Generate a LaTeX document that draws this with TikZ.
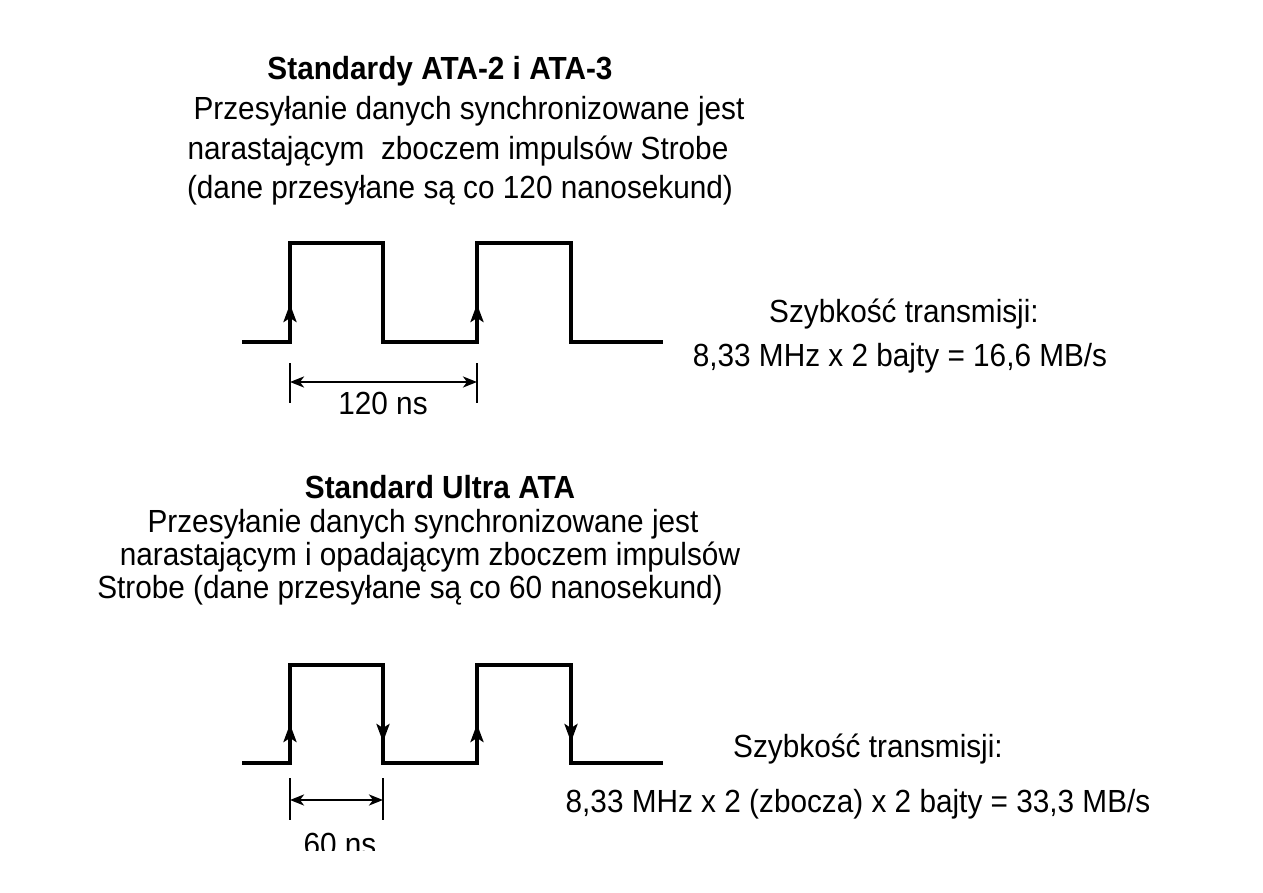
\documentclass[tikz,border=0pt]{standalone}
\usepackage{fontspec}
\setmainfont{Liberation Sans}[FakeStretch=0.93]
\usetikzlibrary{arrows.meta}
\begin{document}
\begin{tikzpicture}[x=0.5pt,y=-0.5pt,>=Stealth,font=\fontsize{16}{20}\selectfont]
	
	% 1. Style
	\tikzset{
		txt/.style={anchor=base,inner sep=0pt},
		tytul/.style={txt,font=\bfseries\fontsize{16}{20}\selectfont},
		sig/.style={line width=1.7pt,line join=miter},
		zbocze/.style={line width=1.7pt,-{Stealth[length=9pt,width=6.5pt,inset=2pt]}},
		wymiar/.style={line width=1.2pt},
		wymiarstrz/.style={wymiar,{Stealth[length=7pt,width=5.5pt,inset=2pt]}-{Stealth[length=7pt,width=5.5pt,inset=2pt]}}
	}
	
	% 2. Obszar rysunku
	\useasboundingbox (0,0) rectangle (1263,893);
	
	% 3. ATA-2 i ATA-3
	\node[tytul] (tytulA) at (440,80) {Standardy ATA-2 i ATA-3};
	\node[txt] (opisA1) at (469,120) {Przesyłanie danych synchronizowane jest};
	\node[txt] (opisA2) at (458,160) {narastającym\ \ zboczem impulsów Strobe};
	\node[txt] (opisA3) at (460,199) {(dane przesyłane są co 120 nanosekund)};
	
	\draw[sig] (242,342) -- (290,342) -- (290,243) -- (383,243) -- (383,342)
		-- (477,342) -- (477,243) -- (571,243) -- (571,342) -- (663,342);
	\draw[zbocze] (290,342) -- (290,304);
	\draw[zbocze] (477,342) -- (477,304);
	
	\coordinate (wA1) at (290,382);
	\coordinate (wA2) at (477,382);
	\draw[wymiar] (290,363) -- (290,403);
	\draw[wymiar] (477,363) -- (477,403);
	\draw[wymiarstrz] (wA1) -- (wA2);
	\node[txt] (czasA) at (383,414) {120 ns};
	
	\node[txt] (szybA) at (904,322) {Szybkość transmisji:};
	\node[txt] (wzorA) at (900,366) {8,33 MHz x 2 bajty = 16,6 MB/s};
	
	% 4. Ultra ATA
	\node[tytul] (tytulB) at (440,498) {Standard Ultra ATA};
	\node[txt] (opisB1) at (423,532) {Przesyłanie danych synchronizowane jest};
	\node[txt] (opisB2) at (430,565) {narastającym i opadającym zboczem impulsów};
	\node[txt] (opisB3) at (410,598) {Strobe (dane przesyłane są co 60 nanosekund)};
	
	\draw[sig] (242,763) -- (290,763) -- (290,665) -- (383,665) -- (383,763)
		-- (477,763) -- (477,665) -- (571,665) -- (571,763) -- (663,763);
	\draw[zbocze] (290,763) -- (290,724);
	\draw[zbocze] (477,763) -- (477,724);
	\draw[zbocze] (383,665) -- (383,742);
	\draw[zbocze] (571,665) -- (571,742);
	
	\coordinate (wB1) at (290,800);
	\coordinate (wB2) at (383,800);
	\draw[wymiar] (290,778) -- (290,820);
	\draw[wymiar] (383,778) -- (383,820);
	\draw[wymiarstrz] (wB1) -- (wB2);
	\begin{scope}
		\clip (0,0) rectangle (1263,850);
		\node[txt] (czasB) at (340,855) {60 ns};
	\end{scope}
	
	\node[txt] (szybB) at (868,757) {Szybkość transmisji:};
	\node[txt] (wzorB) at (858,812) {8,33 MHz x 2 (zbocza) x 2 bajty = 33,3 MB/s};
	
\end{tikzpicture}
\end{document}
